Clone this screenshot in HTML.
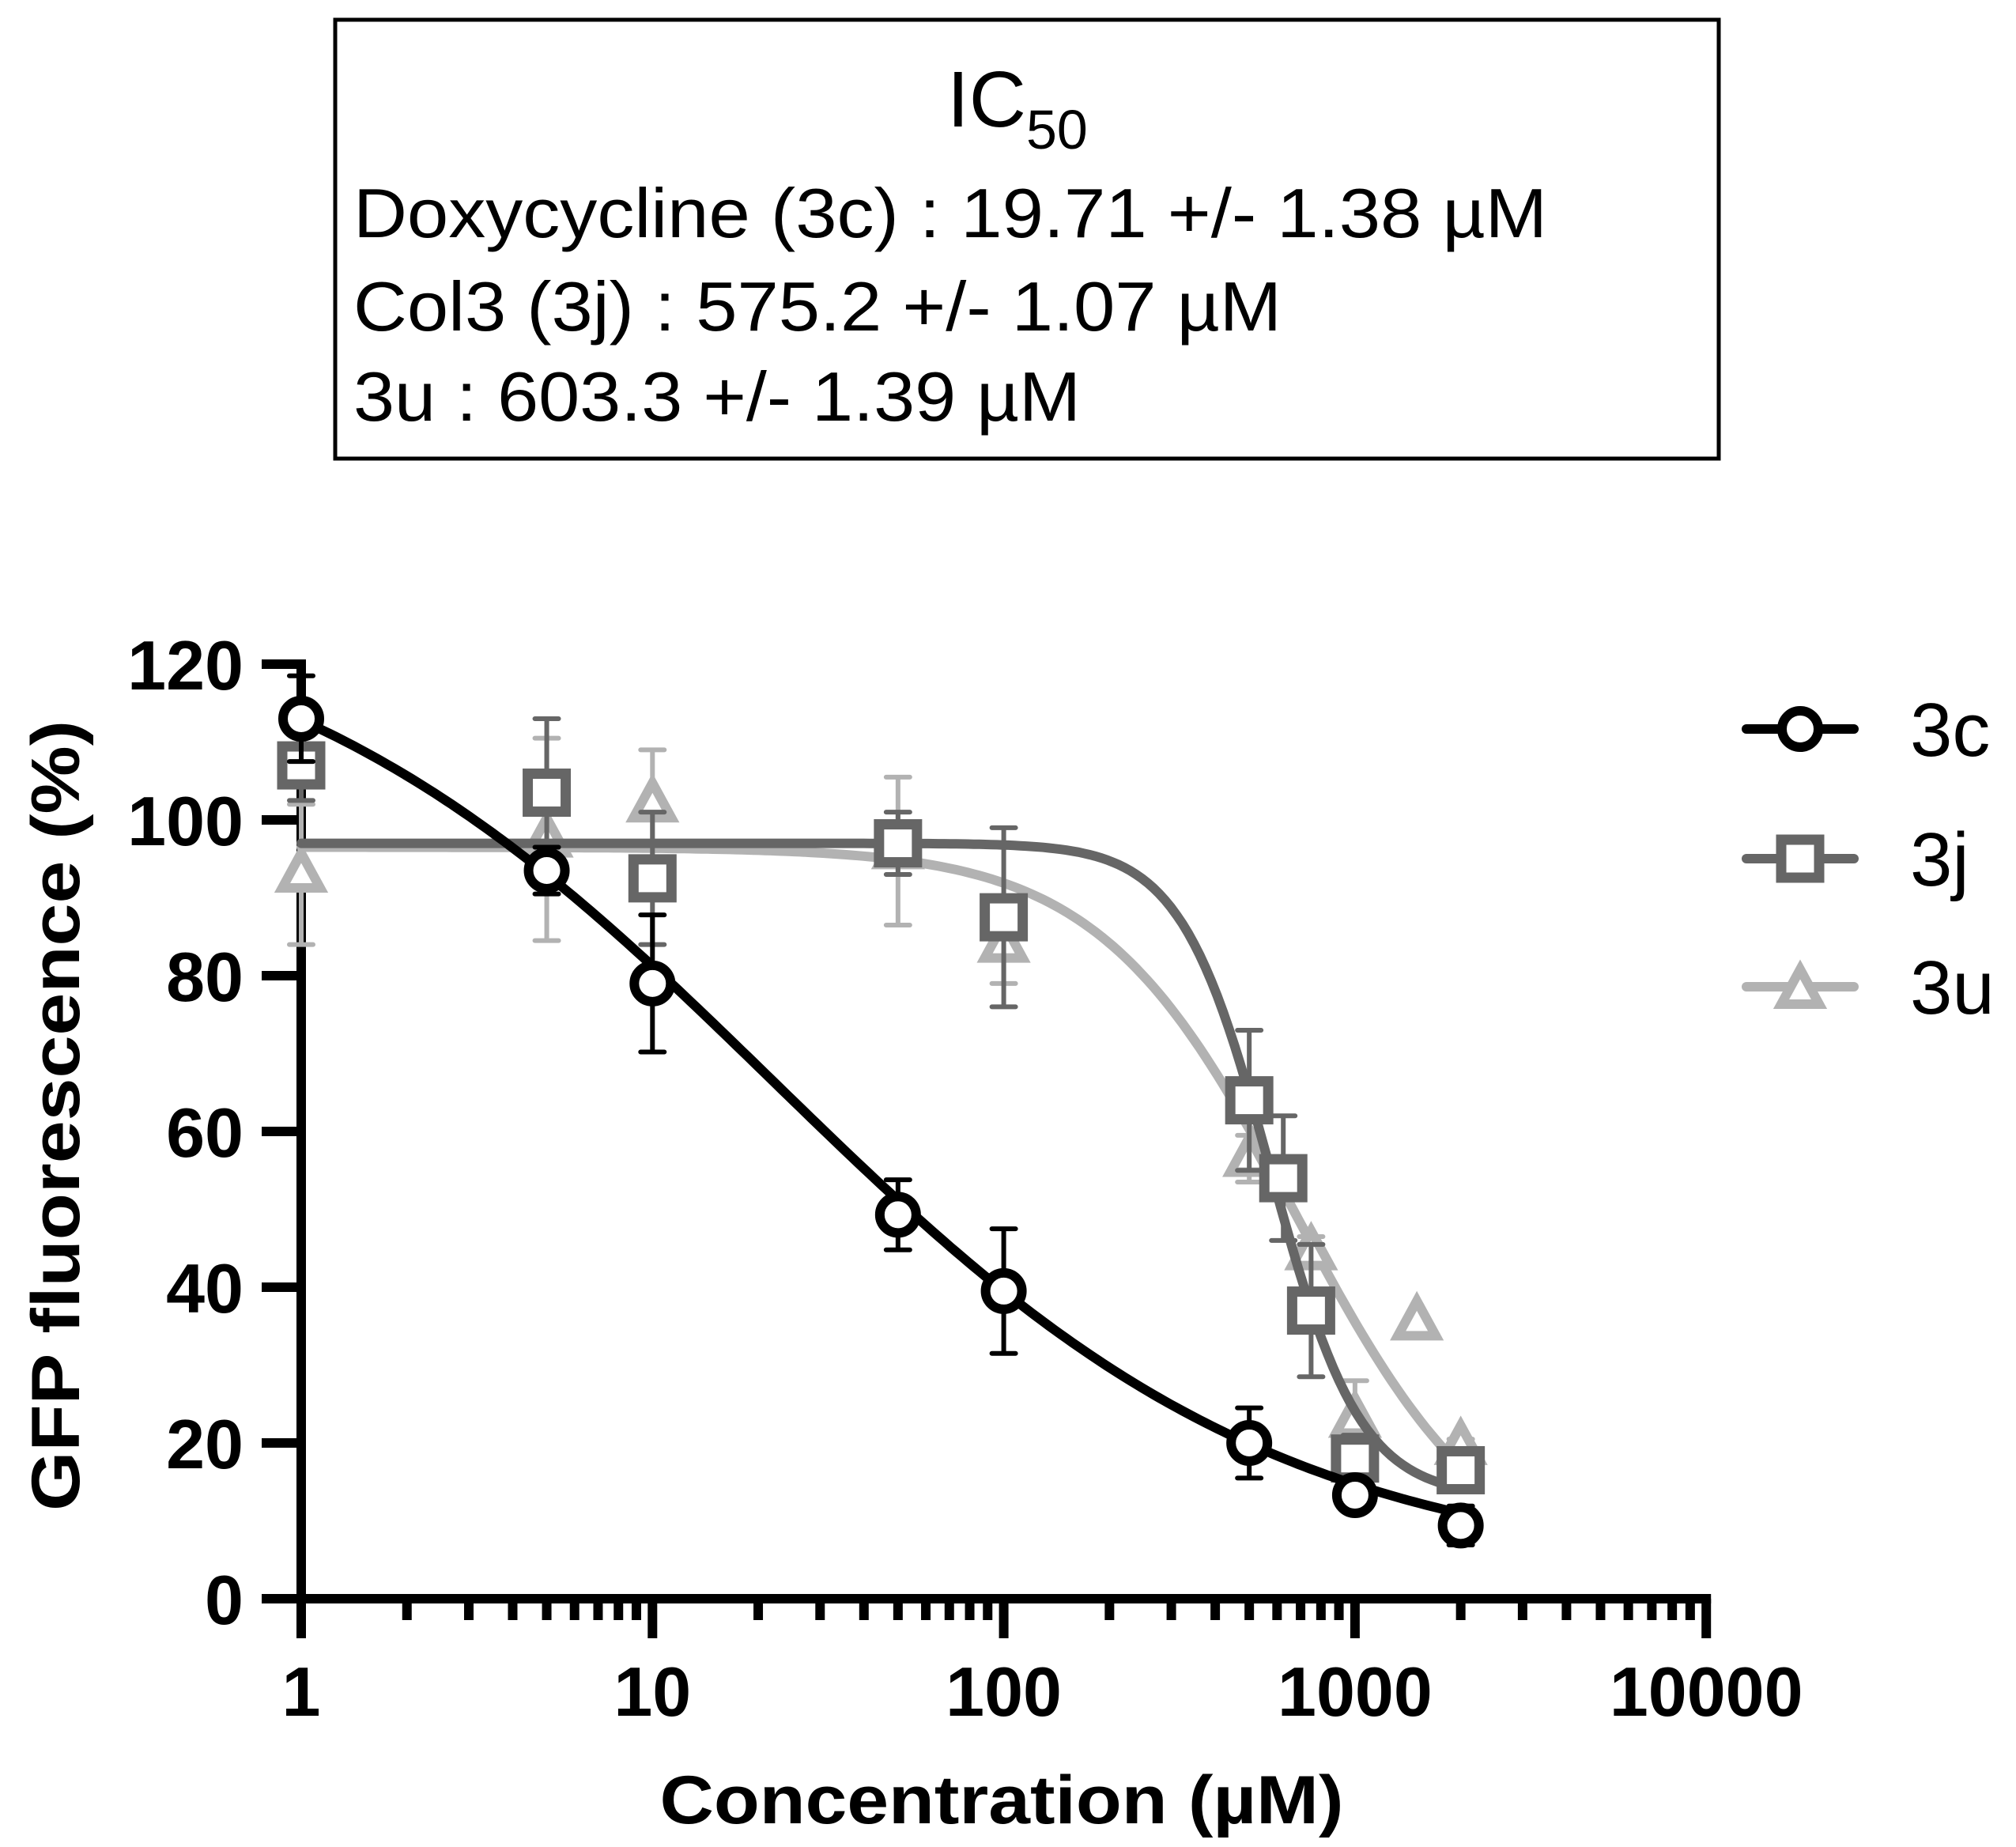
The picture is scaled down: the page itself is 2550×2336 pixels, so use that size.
<!DOCTYPE html>
<html><head><meta charset="utf-8"><style>
html,body{margin:0;padding:0;background:#fff;}
svg{display:block;font-family:"Liberation Sans",Arial,sans-serif;}
</style></head><body>
<svg id="chart" width="2550" height="2336" viewBox="0 0 2550 2336" xmlns="http://www.w3.org/2000/svg">
<g>
<rect x="424" y="25" width="1750" height="555" fill="#fff" stroke="#000" stroke-width="5"/>
<text x="1198" y="160" font-size="100">IC<tspan font-size="70" dy="28">50</tspan></text>
<text x="447" y="300" font-size="88" textLength="1510" lengthAdjust="spacingAndGlyphs">Doxycycline (3c) : 19.71 +/- 1.38 µM</text>
<text x="447" y="418" font-size="88" textLength="1174" lengthAdjust="spacingAndGlyphs">Col3 (3j) : 575.2 +/- 1.07 µM</text>
<text x="447" y="532" font-size="88" textLength="920" lengthAdjust="spacingAndGlyphs">3u : 603.3 +/- 1.39 µM</text>
</g>
<g id="axes"></g>
<g id="series"></g>
<g id="legend"></g>
<text transform="translate(100,1411) rotate(-90)" text-anchor="middle" font-size="86" font-weight="bold" textLength="1000" lengthAdjust="spacingAndGlyphs">GFP fluorescence (%)</text>
<text x="1267" y="2306" text-anchor="middle" font-size="86" font-weight="bold" textLength="865" lengthAdjust="spacingAndGlyphs">Concentration (µM)</text>
</svg>
<script>
// ---- data ----
const yTicks = [0, 20, 40, 60, 80, 100, 120];
const xTicks = [1, 10, 100, 1000, 10000];
const xTickLabels = ["1", "10", "100", "1000", "10000"];
const seriesNames = ["3c", "3j", "3u"];
const seriesColors = ["#000000", "#666666", "#b2b2b2"];
const conc3c = [1, 5, 10, 50, 100, 500, 1000, 2000];
const val3c = [113, 93.5, 79, 49.3, 39.5, 20, 13.3, 9.4];
const err3c = [5.5, 3, 8.8, 4.5, 8, 4.5, 1, 2.5];
const conc3j = [1, 5, 10, 50, 100, 500, 625, 750, 1000, 2000];
const val3j = [107, 103.5, 92.5, 97, 87.5, 64, 54, 37, 18, 16.5];
const err3j = [4.5, 9.5, 8.5, 4, 11.5, 9, 8, 8.5, 3, 2];
const conc3u = [1, 5, 10, 50, 100, 500, 750, 1000, 1500, 2000];
const val3u = [93, 97.5, 102, 96, 84, 56.5, 44.5, 23, 35.5, 19.5];
const err3u = [9, 13, 7, 9.5, 5, 3, 2, 5, 0, 1];
// 4PL fit params: top, bottom, ic50, hill
const fit3c = [130, 3, 22, 0.6];
const fit3j = [97, 13, 575, 3.4];
const fit3u = [96.5, 2, 680, 1.55];

// ---- scales ----
const X0 = 381, DEC = 444.3, Y0 = 2022, YU = 9.85;
const sx = v => X0 + Math.log10(v) * DEC;
const sy = v => Y0 - v * YU;
const NS = "http://www.w3.org/2000/svg";
function mk(tag, parent, attrs) {
  const e = document.createElementNS(NS, tag);
  for (const k in attrs) e.setAttribute(k, attrs[k]);
  parent.appendChild(e);
  return e;
}
const axes = document.getElementById('axes');
const series = document.getElementById('series');
const legend = document.getElementById('legend');

const yl = mk('line', axes, {x1: X0, y1: sy(120) - 6, x2: X0, y2: Y0 + 50, stroke: '#000', 'stroke-width': 12});


const xl = mk('line', axes, {x1: X0 - 50, y1: Y0, x2: sx(10000) + 6, y2: Y0, stroke: '#000', 'stroke-width': 12});



yTicks.forEach(t => {
  const tk = mk('line', axes, {x1: X0 - 50, y1: sy(t), x2: X0, y2: sy(t), stroke: '#000', 'stroke-width': 12});
  
  
  const lb = mk('text', axes, {x: 308, y: sy(t) + 32, 'text-anchor': 'end', 'font-size': 88, 'font-weight': 'bold'});
  lb.textContent = String(t);
  
  
});
xTicks.forEach((t, i) => {
  const tk = mk('line', axes, {x1: sx(t), y1: Y0, x2: sx(t), y2: Y0 + 50, stroke: '#000', 'stroke-width': 12});
  
  
  const lb = mk('text', axes, {x: sx(t), y: 2170, 'text-anchor': 'middle', 'font-size': 88, 'font-weight': 'bold'});
  lb.textContent = xTickLabels[i];
  
  
  if (i < xTicks.length - 1) {
    for (let m = 2; m <= 9; m++) {
      const mt = mk('line', axes, {x1: sx(t * m), y1: Y0, x2: sx(t * m), y2: Y0 + 27, stroke: '#000', 'stroke-width': 12});
      
      
    }
  }
});

function marker(parent, kind, cx, cy, color) {
  let e;
  if (kind === 'circle') e = mk('circle', parent, {cx: cx, cy: cy, r: 23, fill: '#fff', stroke: color, 'stroke-width': 12});
  else if (kind === 'square') e = mk('rect', parent, {x: cx - 24, y: cy - 24, width: 48, height: 48, fill: '#fff', stroke: color, 'stroke-width': 13});
  else e = mk('polygon', parent, {points: `${cx},${cy - 27} ${cx + 24},${cy + 17} ${cx - 24},${cy + 17}`, fill: '#fff', stroke: color, 'stroke-width': 12});
  return e;
}

function drawSeries(name, conc, vals, errs, fit, color, kind) {
  const g = mk('g', series, {});
  
  
  let d = '';
  const [T, B, C, H] = fit;
  for (let i = 0; i <= 200; i++) {
    const lx = Math.log10(conc[0]) + (Math.log10(conc[conc.length - 1]) - Math.log10(conc[0])) * i / 200;
    const x = Math.pow(10, lx);
    const y = B + (T - B) / (1 + Math.pow(x / C, H));
    d += (i ? 'L' : 'M') + sx(x).toFixed(1) + ',' + sy(y).toFixed(1);
  }
  const c = mk('path', g, {d: d, fill: 'none', stroke: color, 'stroke-width': 12, 'stroke-linecap': 'round'});
  
  
  conc.forEach((x, i) => {
    if (errs[i] > 0) {
      const px = sx(x), top = sy(vals[i] + errs[i]), bot = sy(vals[i] - errs[i]);
      const eb = mk('path', g, {d: `M${px},${top}L${px},${bot}M${px - 15},${top}L${px + 15},${top}M${px - 15},${bot}L${px + 15},${bot}`, stroke: color, 'stroke-width': 6, 'stroke-linecap': 'round', fill: 'none'});
      
      
    }
  });
  conc.forEach((x, i) => {
    const m = marker(g, kind, sx(x), sy(vals[i]), color);
    
    
  });
}
drawSeries('3u', conc3u, val3u, err3u, fit3u, seriesColors[2], 'triangle');
drawSeries('3j', conc3j, val3j, err3j, fit3j, seriesColors[1], 'square');
drawSeries('3c', conc3c, val3c, err3c, fit3c, seriesColors[0], 'circle');

const kinds = ['circle', 'square', 'triangle'];
const legY = [922, 1086, 1248];
seriesNames.forEach((n, i) => {
  const g = mk('g', legend, {});
  
  
  mk('line', g, {x1: 2209, y1: legY[i], x2: 2345, y2: legY[i], stroke: seriesColors[i], 'stroke-width': 12, 'stroke-linecap': 'round'});
  marker(g, kinds[i], 2277, legY[i] + (i === 2 ? 5 : 0), seriesColors[i]);
  const t = mk('text', g, {x: 2416, y: legY[i] + 34, 'font-size': 96});
  t.textContent = n;
});
</script>
</body></html>
